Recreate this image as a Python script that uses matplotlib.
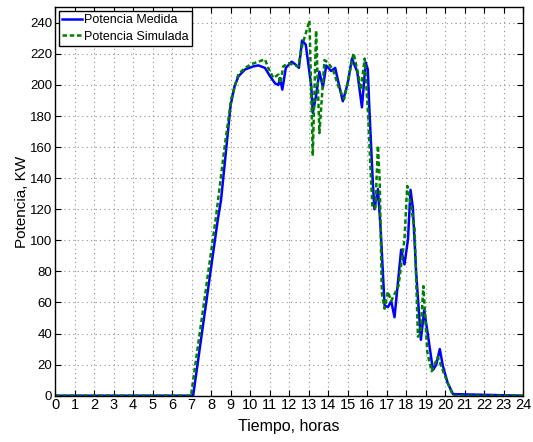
import matplotlib
matplotlib.use("Agg")
import matplotlib.pyplot as plt
from matplotlib.ticker import MultipleLocator

plt.rcParams['font.family'] = ['Liberation Sans', 'DejaVu Sans']

# Potencia medida (kW) vs hora del dia
horas_med = [0, 7.08, 8.34, 8.51, 9.0, 9.2, 9.4, 9.74, 10.17, 10.42, 10.76, 11.02,
             11.28, 11.45, 11.53, 11.65, 11.83, 12.13, 12.34, 12.5, 12.66, 12.85,
             13.13, 13.21, 13.38, 13.55, 13.73, 13.9, 14.15, 14.36, 14.5, 14.75,
             15.0, 15.22, 15.49, 15.73, 15.92, 16.03, 16.12, 16.29, 16.37, 16.55,
             16.69, 16.89, 17.06, 17.23, 17.4, 17.74, 17.91, 18.09, 18.22, 18.34,
             18.51, 18.75, 18.92, 19.1, 19.37, 19.54, 19.72, 19.88, 20.13, 20.4, 24]
pot_med = [0, 0, 113, 126, 187, 199, 205.6, 210, 212, 212.6, 211, 205.6,
           201, 200, 204.5, 197, 211, 215, 213, 211, 228.6, 226,
           199.6, 182, 193, 208.5, 198.5, 212.5, 209, 211, 203, 189.5,
           201, 217, 208.5, 185.6, 214.5, 210, 182, 137, 120, 133,
           107, 58, 57, 60.8, 50.5, 94, 84.5, 100.6, 132.5, 121,
           79, 36, 55, 40, 16.5, 20, 30, 19, 8, 1, 0]

# Potencia simulada (kW)
horas_sim = [0, 6.97, 8.26, 8.68, 9.03, 9.28, 9.4, 9.74, 10.08, 10.42, 10.76,
             10.93, 11.19, 11.45, 11.55, 11.7, 11.96, 12.2, 12.47, 12.68, 12.87,
             13.04, 13.21, 13.38, 13.55, 13.81, 13.98, 14.24, 14.58, 14.82, 15.0,
             15.3, 15.52, 15.68, 15.87, 16.05, 16.17, 16.27, 16.42, 16.55, 16.64,
             16.75, 16.89, 17.06, 17.23, 17.6, 17.91, 18.05, 18.26, 18.43, 18.6,
             18.73, 18.88, 19.08, 19.3, 19.62, 19.88, 20.2, 20.4, 24]
pot_sim = [0, 0, 116, 159, 191, 202, 207, 211, 213.5, 215, 216.5,
           211, 204.5, 206.7, 201, 212, 214, 213, 212, 226, 234,
           241.5, 154.4, 235, 169, 216, 214.5, 210, 197, 191, 201.7,
           220.5, 208, 197, 217, 180, 146, 121, 121, 161, 139,
           66, 56, 67, 61, 70.5, 100.6, 135, 121, 107, 38,
           40, 70.5, 28, 15.7, 25, 16, 6, 0, 0]

fig = plt.figure(figsize=(5.33, 4.42), dpi=100)
ax = fig.add_axes([0.1032, 0.1048, 0.9818 - 0.1032, 0.9835 - 0.1048])

ax.plot(horas_med, pot_med, color='#0000ff', lw=1.8, label='Potencia Medida')
ax.plot(horas_sim, pot_sim, color='#008000', lw=1.8, dashes=(1.8, 1.1),
        label='Potencia Simulada')

ax.set_xlim(0, 24)
ax.set_ylim(0, 250)
ax.xaxis.set_major_locator(MultipleLocator(1))
ax.set_yticks(range(0, 241, 20))
ax.tick_params(direction='in', top=True, right=True, length=4, width=0.8, pad=2)
ax.tick_params(axis='x', labelsize=10.5)
ax.tick_params(axis='y', labelsize=9.5)
ax.grid(True, linestyle=(0, (1, 3)), color='#909090', lw=0.8)
for s in ax.spines.values():
    s.set_linewidth(1.0)

ax.set_xlabel('Tiempo, horas', fontsize=11.5, labelpad=5)
ax.set_ylabel('Potencia, KW', fontsize=11, labelpad=1)

leg = ax.legend(loc='upper left', fontsize=9, handlelength=1.6,
                handletextpad=0.15, borderpad=0.25, labelspacing=0.35,
                borderaxespad=0.3, fancybox=False, framealpha=1)
leg.get_frame().set_edgecolor('black')
leg.get_frame().set_linewidth(1.0)

fig.savefig('out.png', dpi=100)
